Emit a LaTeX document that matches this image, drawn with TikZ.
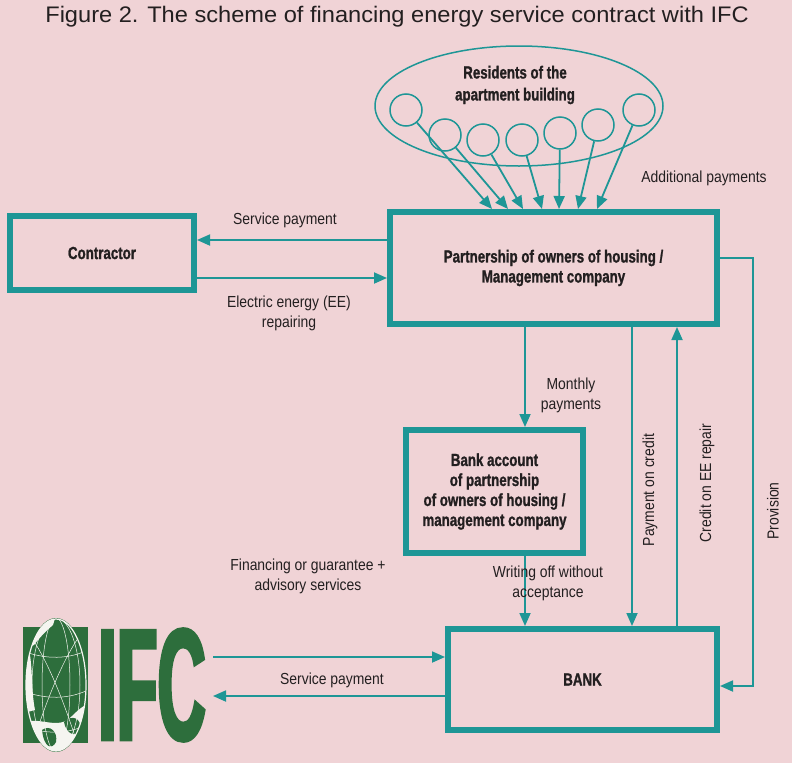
\documentclass[tikz,border=0pt]{standalone}
\usepackage{fontspec}
\setmainfont{Liberation Sans}
\newfontfamily\titlefont{Liberation Sans}[FakeStretch=1.05]
\newfontfamily\condfont{Liberation Sans}[FakeStretch=0.87]
\newfontfamily\boldfont{Liberation Sans}[FakeStretch=0.76,FakeBold=1.2]
\newfontfamily\ifcfont{Liberation Sans}[FakeStretch=0.42,FakeBold=2]
\usetikzlibrary{arrows.meta,shapes.geometric}
\definecolor{bg}{RGB}{240,211,214}
\definecolor{tealc}{RGB}{30,150,150}
\definecolor{ink}{RGB}{35,31,32}
\definecolor{ifcgreen}{RGB}{45,110,60}
\definecolor{globew}{RGB}{245,245,240}
\begin{document}
\begin{tikzpicture}[x=1pt,y=-1pt,
  box/.style={draw=tealc,line width=6pt,rectangle,inner sep=0pt,text=ink,align=center,
    font=\boldfont\bfseries\fontsize{17.5}{20}\selectfont},
  lbl/.style={inner sep=0pt,text=ink,align=center,font=\condfont\fontsize{16}{20}\selectfont},
  blbl/.style={inner sep=0pt,text=ink,align=center,font=\boldfont\bfseries\fontsize{17.5}{22}\selectfont},
  arr/.style={draw=tealc,line width=1.8pt,-{Triangle[length=13pt,width=11pt]}},
  res/.style={circle,draw=tealc,line width=1.5pt,minimum size=32pt,inner sep=0pt}]
\fill[bg] (0,0) rectangle (792,763);
\useasboundingbox (0,0) rectangle (792,763);

% title
\node[inner sep=0pt,text=ink,font=\titlefont\fontsize{22.5}{24}\selectfont] (title) at (397,17)
  {Figure 2. The scheme of financing energy service contract with IFC};

% boxes
\node[box,minimum width=184pt,minimum height=74pt] (contr) at (102,253) {Contractor};
\node[box,minimum width=327pt,minimum height=112pt] (partner) at (553.5,268)
  {Partnership of owners of housing /\\Management company};
\node[box,minimum width=177pt,minimum height=123pt] (bacc) at (494.5,491.5)
  {Bank account\\of partnership\\of owners of housing /\\management company};
\node[box,minimum width=269pt,minimum height=101pt] (bank) at (582.5,679.5) {BANK};

% residents
\node[ellipse,draw=tealc,line width=1.5pt,minimum width=288pt,minimum height=120pt,inner sep=0pt] (resgroup) at (519,106) {};
\node[blbl] (restext) at (515,85) {Residents of the\\apartment building};
\node[res] (r1) at (406,110) {};
\node[res] (r2) at (445,135) {};
\node[res] (r3) at (483,140) {};
\node[res] (r4) at (522,140) {};
\node[res] (r5) at (560,133) {};
\node[res] (r6) at (598,125) {};
\node[res] (r7) at (639,110) {};
\draw[arr] (r1) -- (partner.north -| 492,0);
\draw[arr] (r2) -- (partner.north -| 508,0);
\draw[arr] (r3) -- (partner.north -| 523,0);
\draw[arr] (r4) -- (partner.north -| 542,0);
\draw[arr] (r5) -- (partner.north -| 559,0);
\draw[arr] (r6) -- (partner.north -| 578,0);
\draw[arr] (r7) -- (partner.north -| 597,0);
\node[lbl] (addpay) at (704,178) {Additional payments};

% contractor <-> partnership
\draw[arr] (partner.west |- 0,240) -- (contr.east |- 0,240);
\draw[arr] (contr.east |- 0,278) -- (partner.west |- 0,278);
\node[lbl] (spay1) at (285,220) {Service payment};
\node[lbl] (eerep) at (289,313) {Electric energy (EE)\\repairing};

% partnership -> bank account
\draw[arr] (partner.south -| 525,0) -- (bacc.north -| 525,0);
\node[lbl] (monthly) at (571,395) {Monthly\\payments};

% bank account -> bank
\draw[arr] (bacc.south -| 525,0) -- (bank.north -| 525,0);
\node[lbl] (wroff) at (548,583) {Writing off without\\acceptance};

% partnership <-> bank
\draw[arr] (partner.south -| 632,0) -- (bank.north -| 632,0);
\draw[arr] (bank.north -| 677,0) -- (partner.south -| 677,0);
\node[lbl,rotate=90] (payc) at (650,490) {Payment on credit};
\node[lbl,rotate=90] (credee) at (707,483) {Credit on EE repair};

% provision
\coordinate (pvtop) at (753,258);
\coordinate (pvbot) at (753,686);
\draw[arr] (partner.east |- pvtop) -- (pvtop) -- (pvbot) -- (bank.east |- pvbot);
\node[lbl,rotate=90] (prov) at (773,511) {Provision};

% IFC logo
\fill[ifcgreen] (23,627) rectangle (88,743);
\fill[ifcgreen] (56,685) ellipse (31 and 67);
\begin{scope}
  \clip (56,685) ellipse (30 and 66);
  \fill[globew] (20,724) .. controls (38,714) and (58,732) .. (72,716)
     .. controls (80,708) and (86,704) .. (92,702) -- (92,760) -- (20,760) -- cycle;
  \fill[globew] (20,615) -- (56,615) -- (53,625) .. controls (46,631) and (40,637) .. (34,645) -- (20,650) -- cycle;
  \fill[globew] (20,650) -- (29,650) .. controls (33,668) and (31,690) .. (35,710) -- (20,714) -- cycle;
  \fill[ifcgreen] (42,730) .. controls (50,724) and (58,732) .. (56,742) .. controls (52,750) and (44,748) .. (42,730) -- cycle;
  \fill[ifcgreen] (64,722) .. controls (72,714) and (82,718) .. (80,730) .. controls (76,738) and (66,734) .. (64,722) -- cycle;
  \draw[globew,line width=0.5pt] (56,685) ellipse (14 and 67);
  \draw[globew,line width=0.5pt] (56,685) ellipse (24 and 67);
  \draw[globew,line width=0.5pt] (20,650) .. controls (45,660) and (70,660) .. (92,648);
  \draw[globew,line width=0.5pt] (20,690) .. controls (45,700) and (70,700) .. (92,688);
  \draw[globew,line width=0.5pt] (20,725) .. controls (45,735) and (70,735) .. (92,722);
  \draw[globew,line width=0.5pt] (26,630) .. controls (50,660) and (70,720) .. (80,752);
  \draw[globew,line width=0.5pt] (84,630) .. controls (60,660) and (40,720) .. (30,752);
\end{scope}
\draw[globew,line width=1.2pt] (56,685) ellipse (30 and 66);
\node[inner sep=2pt,text=ifcgreen,font=\ifcfont\bfseries\fontsize{159}{159}\selectfont] (ifc) at (152,685) {IFC};
\coordinate (ifcR) at (213,676);

% IFC <-> bank
\draw[arr] (ifcR |- 0,657) -- (bank.west |- 0,657);
\draw[arr] (bank.west |- 0,696) -- (ifcR |- 0,696);
\node[lbl] (spay2) at (332,680) {Service payment};
\node[lbl] (finance) at (308,576) {Financing or guarantee +\\advisory services};
\end{tikzpicture}
\end{document}
